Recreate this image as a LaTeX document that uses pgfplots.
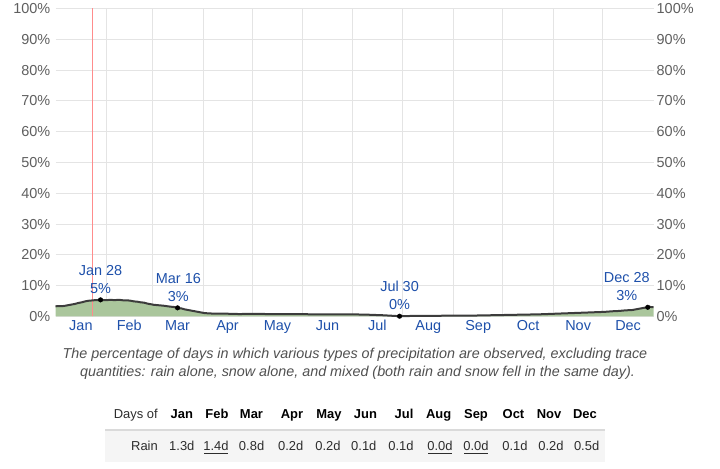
\documentclass[border=0pt]{standalone}
\usepackage{pgfplots}
\pgfplotsset{compat=1.18}
\usepackage{pgfplotstable}
\usepackage{fontspec}
\setmainfont{Liberation Sans}
\definecolor{fillgreen}{RGB}{170,198,156}
\definecolor{linegray}{RGB}{60,60,60}
\definecolor{gridgray}{RGB}{228,228,228}
\definecolor{ticktext}{RGB}{95,95,95}
\definecolor{monthblue}{RGB}{30,80,170}
\definecolor{todayred}{RGB}{255,140,140}
\definecolor{rowbg}{RGB}{245,245,245}
\definecolor{seprule}{RGB}{218,218,218}
\definecolor{captext}{RGB}{80,80,80}
\definecolor{tabtext}{RGB}{45,45,45}

\pgfplotstableread{
day pct
0 3.3
2 3.4
4 3.35
6 3.5
8 3.7
10 3.9
12 4.1
14 4.4
16 4.6
18 4.9
20 5.1
22 5.2
24 5.3
26 5.35
27.5 5.4
30 5.3
32 5.35
34 5.4
36 5.3
38 5.4
40 5.35
42 5.2
44 5.25
46 5.1
48 4.9
50 4.8
52 4.6
54 4.5
56 4.2
58 4.0
60 3.8
62 3.7
64 3.6
66 3.5
68 3.35
70 3.2
72 3.1
74.5 2.8
77 2.6
79 2.3
81 2.1
83 1.9
85 1.7
87 1.5
89 1.3
91 1.1
94 1.0
98 0.9
105 0.9
112 0.8
120 0.85
130 0.8
140 0.8
150 0.75
160 0.7
170 0.7
180 0.7
190 0.6
200 0.4
210 0.1
220 0.2
230 0.2
243 0.3
255 0.3
265 0.4
275 0.5
285 0.6
295 0.7
305 0.9
315 1.1
325 1.3
335 1.5
340 1.7
344 1.8
348 2.0
352 2.1
355 2.4
357 2.6
359 2.8
361.5 3.0
363 3.1
365 3.0
}\raindata

\pgfplotstableread{
day pct
27.5 5.4
74.5 2.8
210 0.1
361.5 3.0
}\extremes

\begin{document}
\begin{tikzpicture}
\useasboundingbox (0bp,0bp) rectangle (720bp,469bp);
\begin{axis}[
  at={(55.5bp,152.5bp)}, anchor=south west,
  scale only axis, width=598bp, height=308bp,
  xmin=0, xmax=365, ymin=0, ymax=100,
  axis line style={draw=none},
  ytick={0,10,20,30,40,50,60,70,80,90,100},
  yticklabels={0\%,10\%,20\%,30\%,40\%,50\%,60\%,70\%,80\%,90\%,100\%},
  xtick={15.5,45,74.5,105,135.5,166,196.5,227.5,258,288.5,319,349.5},
  xticklabels={Jan,Feb,Mar,Apr,May,Jun,Jul,Aug,Sep,Oct,Nov,Dec},
  minor xtick={31,59,90,120,151,181,212,243,273,304,334},
  xminorgrids=true, ymajorgrids=true, xmajorgrids=false,
  major tick length=0pt, minor tick length=0pt,
  grid style={gridgray, line width=0.8bp},
  minor grid style={gridgray, line width=0.8bp},
  tick label style={font=\fontsize{14.5}{16}\selectfont},
  xticklabel style={text=monthblue, inner sep=0pt, yshift=-3bp, text height=10.5bp, text depth=3bp},
  yticklabel style={text=ticktext, inner sep=0pt, xshift=-5bp},
  clip=false,
]
\addplot[fill=fillgreen, draw=none] table[x=day,y=pct]{\raindata} \closedcycle;
\addplot[todayred, line width=1bp] coordinates {(22.5,0) (22.5,100)};
\addplot[linegray, line width=2bp] table[x=day,y=pct]{\raindata};
\addplot[only marks, mark=*, mark size=2.3bp, black] table[x=day,y=pct]{\extremes};
\node[anchor=south, align=center, text=monthblue, inner sep=0pt, font=\fontsize{14.5}{18.4}\selectfont] at (axis cs:27.5,5.4) [yshift=6bp] {Jan 28\\5\%};
\node[anchor=south, align=center, text=monthblue, inner sep=0pt, font=\fontsize{14.5}{18.4}\selectfont] at (axis cs:75,2.8) [yshift=6bp] {Mar 16\\3\%};
\node[anchor=south, align=center, text=monthblue, inner sep=0pt, font=\fontsize{14.5}{18.4}\selectfont] at (axis cs:210,0.1) [yshift=6bp] {Jul 30\\0\%};
\node[anchor=south, align=center, text=monthblue, inner sep=0pt, font=\fontsize{14.5}{18.4}\selectfont] at (axis cs:348.7,3.0) [yshift=6bp] {Dec 28\\3\%};
\end{axis}
\begin{axis}[
  at={(55.5bp,152.5bp)}, anchor=south west,
  scale only axis, width=598bp, height=308bp,
  xmin=0, xmax=365, ymin=0, ymax=100,
  axis line style={draw=none},
  xtick=\empty,
  ytick={0,10,20,30,40,50,60,70,80,90,100},
  yticklabels={0\%,10\%,20\%,30\%,40\%,50\%,60\%,70\%,80\%,90\%,100\%},
  yticklabel pos=right,
  major tick length=0pt,
  tick label style={font=\fontsize{14.5}{16}\selectfont},
  yticklabel style={text=ticktext, inner sep=0pt, xshift=3bp},
]
\addplot[draw=none] coordinates {(0,0)};
\end{axis}
% caption
\node[text=captext, font=\fontsize{14.4}{20}\selectfont\itshape] at (355bp,114bp) {The percentage of days in which various types of precipitation are observed, excluding trace};
\node[text=captext, font=\fontsize{14.4}{20}\selectfont\itshape] at (357.5bp,96bp) {quantities: rain alone, snow alone, and mixed (both rain and snow fell in the same day).};
% table
\fill[rowbg] (105bp,7bp) rectangle (605bp,39bp);
\draw[seprule, line width=1.5bp] (105bp,39bp) -- (605bp,39bp);
\begin{scope}[every node/.style={inner sep=0pt, text=tabtext, font=\fontsize{13}{15}\selectfont}]
\node[anchor=base east] at (158bp,50.3bp) {Days of};
\node[anchor=base east] at (158bp,18.3bp) {Rain};
\foreach \m/\x in {Jan/181.8,Feb/216.9,Mar/251.5,Apr/292,May/329,Jun/365.5,Jul/404,Aug/438.6,Sep/476,Oct/513.5,Nov/549,Dec/585}{
  \node[anchor=base, font=\fontsize{13}{15}\selectfont\bfseries, text=black] at (\x bp,50.3bp) {\m};
}
\foreach \v/\x in {1.3d/181.8,1.4d/216,0.8d/251.6,0.2d/290.7,0.2d/328,0.1d/363.8,0.1d/401,0.0d/440,0.0d/476,0.1d/515,0.2d/551,0.5d/586.6}{
  \node[anchor=base] at (\x bp,18.3bp) {\v};
}
\end{scope}
\foreach \x in {216,440,476}{
  \draw[tabtext, line width=0.6bp] (\x bp-12bp,15.5bp) -- (\x bp+12bp,15.5bp);
}
\end{tikzpicture}
\end{document}
